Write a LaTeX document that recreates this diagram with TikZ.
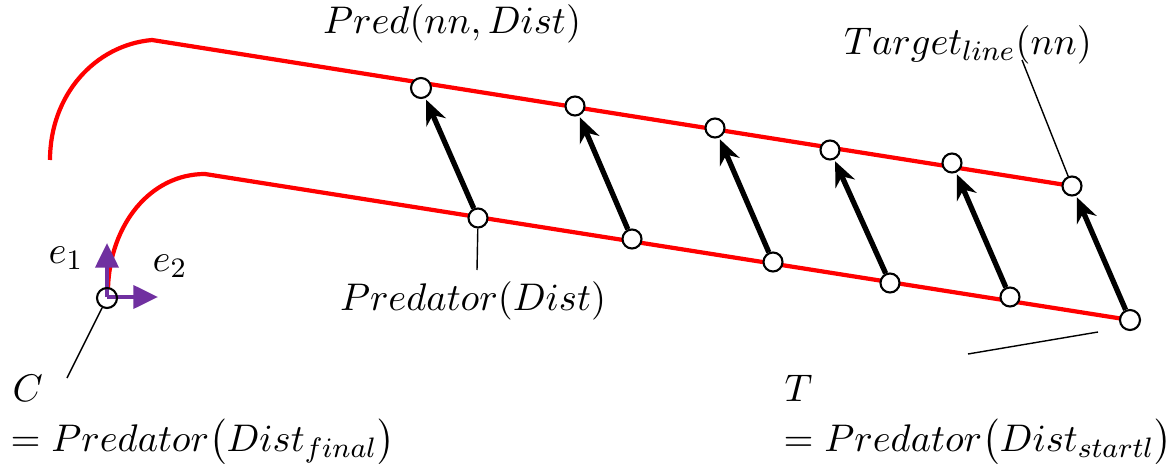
\documentclass[tikz,border=0pt]{standalone}
\usepackage{amsmath,amssymb}
\usepackage{xcolor}
\usepackage{tikz}
\usetikzlibrary{positioning, calc, arrows.meta, backgrounds}

\definecolor{pathred}{RGB}{255,0,0}
\definecolor{axispurple}{RGB}{112,48,160}

\begin{document}
\begin{tikzpicture}[
        x=0.01cm, y=-0.01cm,
        % Style for the points on the lines
        pointnode/.style={
            draw,
            circle,
            fill=white,
            line width=0.6pt,
            minimum size=0.19cm,
            inner sep=0pt
        },
        % Style for the red paths
        redpath/.style={
            draw=pathred,
            line width=1.2pt
        },
        % Style for the black displacement arrows
        move_arrow/.style={
            -{Stealth[length=7pt, width=6pt]},
            line width=1.5pt,
            shorten >=0.5pt
        },
        % Style for the purple axis arrows
        axis_arrow/.style={
            -{Triangle[length=7pt, width=6.5pt]},
            draw=axispurple,
            line width=1.2pt
        },
        % Style for the thin pointer lines
        leader_line/.style={
            line width=0.4pt
        },
        labeltext/.style={
            font=\fontsize{10.8}{13}\selectfont,
            inner sep=0pt
        }
    ]
    \useasboundingbox (0,0) rectangle (1167,464);

    % ==========================================
    % POINTS ON BOTH LINES
    % ==========================================
    \coordinate (upstart) at (50,160);
    \coordinate (upbend)  at (152,40);
    \coordinate (lowstart) at (108,288);
    \coordinate (lowbend)  at (205,174);

    % upper (target) line
    \node[pointnode, minimum size=0.2cm] (t1) at (421,88)  {};
    \node[pointnode] (t2) at (575,106) {};
    \node[pointnode] (t3) at (715,128) {};
    \node[pointnode] (t4) at (830,150) {};
    \node[pointnode] (t5) at (952,163) {};
    \node[pointnode] (t6) at (1072,186) {};

    % lower (predator) line
    \node[pointnode] (b1) at (478,218) {};
    \node[pointnode] (b2) at (632,239) {};
    \node[pointnode] (b3) at (773,262) {};
    \node[pointnode] (b4) at (890,283) {};
    \node[pointnode] (b5) at (1010,297) {};
    \node[pointnode, minimum size=0.2cm] (b6) at (1130,320) {};

    % red paths behind the points
    \begin{scope}[on background layer]
        \draw[redpath] (upstart) .. controls (50,95) and (95,45) .. (upbend) -- (t6.center);
        \draw[redpath] (lowstart) .. controls (110,225) and (150,174) .. (lowbend) -- (b6.center);
    \end{scope}

    % displacement arrows
    \draw[move_arrow] (b1) -- (t1);
    \draw[move_arrow] (b2) -- (t2);
    \draw[move_arrow] (b3) -- (t3);
    \draw[move_arrow] (b4) -- (t4);
    \draw[move_arrow] (b5) -- (t5);
    \draw[move_arrow] (b6) -- (t6);

    % ==========================================
    % LOCAL FRAME AT C
    % ==========================================
    \coordinate (origin) at (107,297);
    \coordinate (e1tip) at (107,243);
    \coordinate (e2tip) at (158,297);
    \draw[axis_arrow] (origin) -- (e1tip);
    \draw[axis_arrow] (origin) -- (e2tip);
    \node[draw, circle, line width=0.6pt, minimum size=0.2cm, inner sep=0pt] (C) at (107,298) {};
    \node[labeltext] (e1) at (66,258) {$e_1$};
    \node[labeltext] (e2) at (170,266) {$e_2$};

    % ==========================================
    % LABELS AND POINTER LINES
    % ==========================================
    \node[labeltext] (predlabel) at (452,24) {$Pred(nn,Dist)$};
    \node[labeltext] (targetlabel) at (968,45) {$Target_{line}(nn)$};
    \node[labeltext] (predatorlabel) at (473,301) {$Predator(Dist)$};

    \node[labeltext, anchor=west] (Clabel) at (12,388) {$C$};
    \node[labeltext, anchor=west] (Ceq) at (10,442) {$=Predator\big(Dist_{final}\big)$};
    \node[labeltext, anchor=west] (Tlabel) at (784,388) {$T$};
    \node[labeltext, anchor=west] (Teq) at (783,442) {$=Predator\big(Dist_{startl}\big)$};

    \coordinate (Cfoot) at (67,378);
    \coordinate (Tfoot) at (968,354);
    \coordinate (Thead) at (1098,332);
    \coordinate (targetfoot) at (1022,60);
    \coordinate (predatorfoot) at (477,270);

    \draw[leader_line] (C) -- (Cfoot);
    \draw[leader_line] (Tfoot) -- (Thead);
    \draw[leader_line] (targetfoot) -- (t6);
    \draw[leader_line] (b1) -- (predatorfoot);

\end{tikzpicture}
\end{document}
